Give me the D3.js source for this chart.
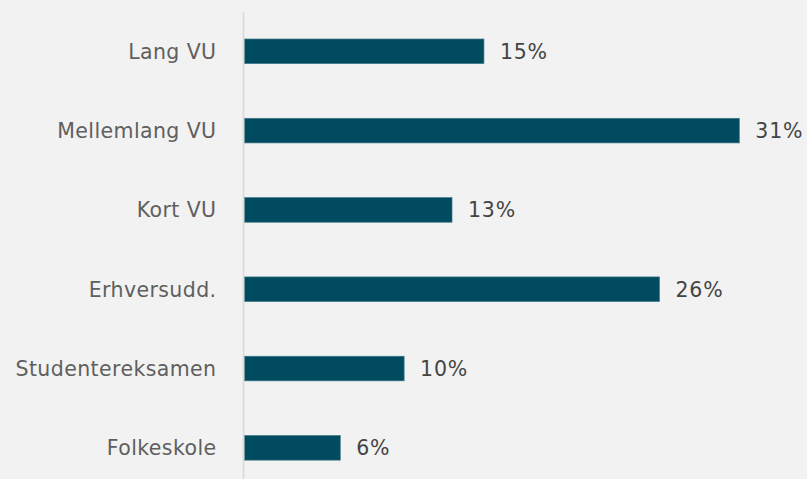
<!DOCTYPE html>
<html>
<head>
<meta charset="utf-8">
<script src="https://cdn.jsdelivr.net/npm/d3@7"></script>
<style>
  html, body { margin: 0; padding: 0; background: #f2f2f2; }
  svg { display: block; }
</style>
</head>
<body>
<div id="chart"></div>
<script>
// Share of people by highest completed education (percent)
const categories = ["Lang VU", "Mellemlang VU", "Kort VU", "Erhversudd.", "Studentereksamen", "Folkeskole"];
const values = [15, 31, 13, 26, 10, 6];
const valueLabels = ["15%", "31%", "13%", "26%", "10%", "6%"];

const width = 807, height = 479;
const x0 = 244.5;

const svg = d3.select("#chart").append("svg")
  .attr("width", width)
  .attr("height", height);

svg.append("rect").attr("width", width).attr("height", height).attr("fill", "#f2f2f2");

const x = d3.scaleLinear().domain([0, 31]).range([x0, 739.3]);
const y = d3.scaleBand()
  .domain(categories)
  .range([11.65, 487.5])
  .paddingInner(0.69)
  .paddingOuter(0.345);

const font = "'DejaVu Sans', Verdana, sans-serif";
const fontSize = 20.5;

// bars
svg.append("g").selectAll("rect")
  .data(categories)
  .join("rect")
  .attr("x", x(0))
  .attr("y", d => y(d))
  .attr("width", (d, i) => x(values[i]) - x(0))
  .attr("height", y.bandwidth())
  .attr("fill", "#004b5f")
  .attr("stroke", "#3d7888")
  .attr("stroke-width", 0.7);

// vertical category axis
const yAxis = d3.axisLeft(y).tickSize(0).tickPadding(27);
const gy = svg.append("g")
  .attr("transform", `translate(${x0 - 1},0)`)
  .call(yAxis);
gy.select(".domain")
  .attr("d", `M0,12V${height}`)
  .attr("stroke", "#d9d9d9")
  .attr("stroke-width", 1.6);
gy.selectAll(".tick text")
  .attr("font-family", font)
  .attr("font-size", fontSize)
  .attr("letter-spacing", "0.4px")
  .attr("fill", "#5f5f5f")
  .attr("dy", "0.36em");

// value labels
svg.append("g").selectAll("text")
  .data(categories)
  .join("text")
  .attr("x", (d, i) => x(values[i]) + 16)
  .attr("y", d => y(d) + y.bandwidth() / 2)
  .attr("dy", "0.36em")
  .attr("font-family", font)
  .attr("font-size", fontSize)
  .attr("letter-spacing", "0.8px")
  .attr("fill", "#444444")
  .text((d, i) => valueLabels[i]);
</script>
</body>
</html>
